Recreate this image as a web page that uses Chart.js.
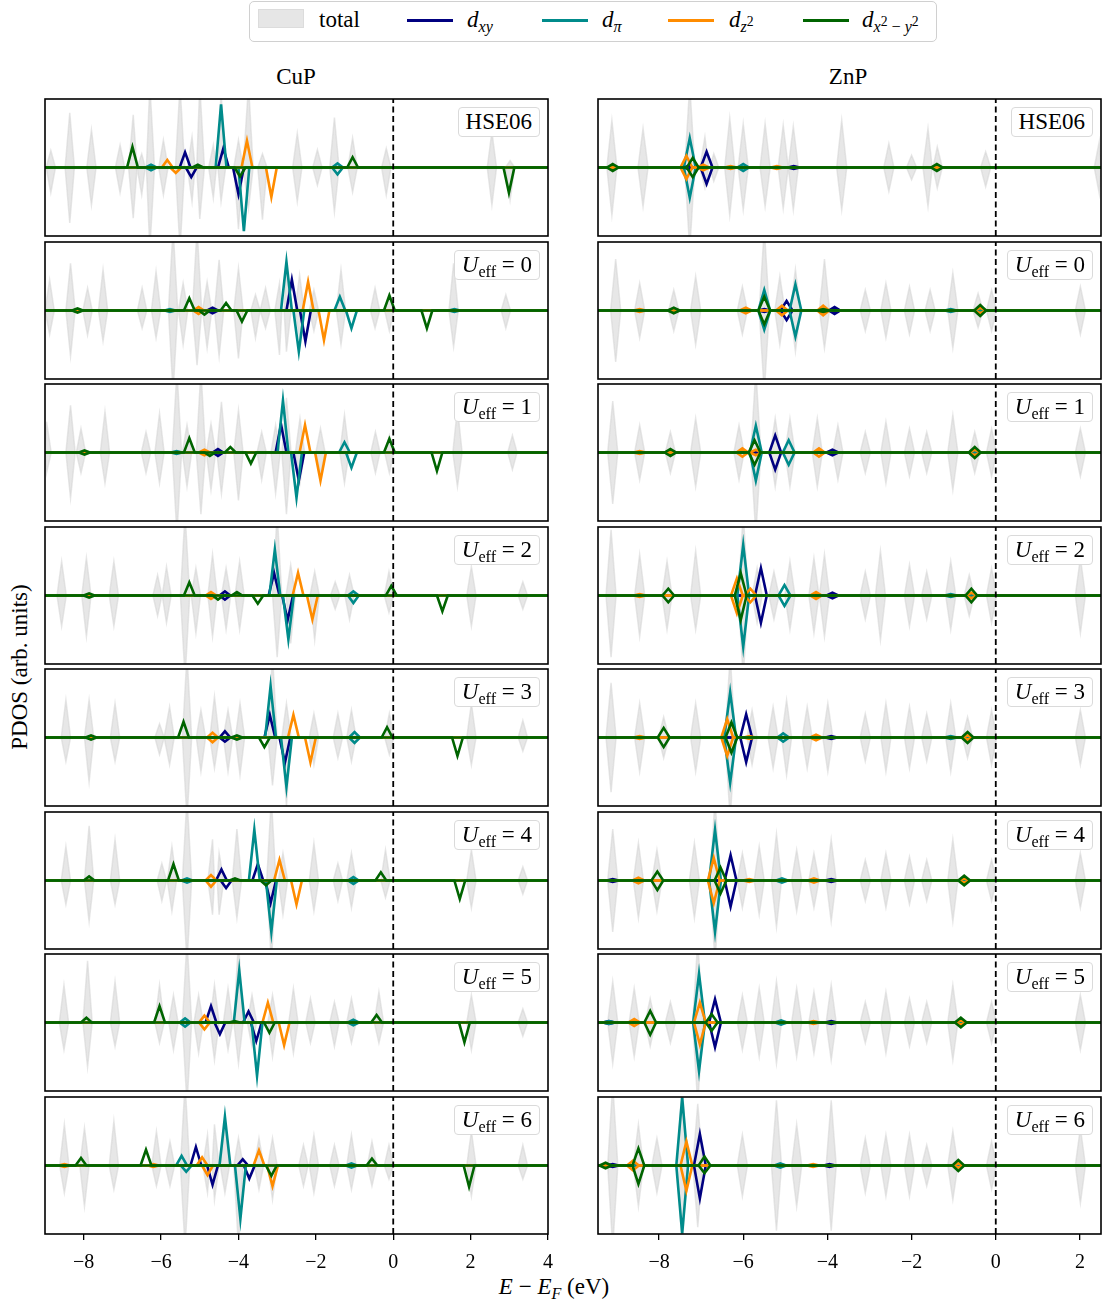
<!DOCTYPE html>
<html>
<head>
<meta charset="utf-8">
<title>PDOS CuP / ZnP</title>
<script src="https://cdn.jsdelivr.net/npm/chart.js@4.4.1/dist/chart.umd.min.js"></script>
<style>
    body {
        margin: 0;
        width: 1108px;
        height: 1306px;
        position: relative;
        overflow: hidden;
        background: #fff;
        color: #000;
        font-family: 'Liberation Serif', 'DejaVu Serif', serif;
    }
    canvas { position: absolute; }
    .txt { position: absolute; font-size: 23px; line-height: 26px; white-space: nowrap; }
    .center { transform: translateX(-50%); }
    sub, sup { font-size: 0.7em; line-height: 0; }
    sub { vertical-align: -0.32em; }
    sup { vertical-align: 0.45em; }
    sub sup { font-size: 0.85em; }
    .tag {
        position: absolute;
        background: #fff;
        border: 1.5px solid #dadada;
        border-radius: 4px;
        font-size: 23px;
        line-height: 28px;
        padding: 0 7px;
        white-space: nowrap;
    }
    #legend {
        position: absolute;
        left: 249px;
        top: 1px;
        width: 686px;
        height: 39px;
        border: 1.5px solid #d0d0d0;
        border-radius: 5px;
        background: #fff;
    }
    .swatch { position: absolute; top: 17px; height: 3px; width: 46px; }
    .patch { position: absolute; left: 8px; top: 7px; width: 44px; height: 17px; background: #e6e6e6; border: 1px solid #dcdcdc; }
    .ltxt { position: absolute; top: 5px; font-size: 23px; line-height: 26px; white-space: nowrap; }
</style>
</head>
<body>
<div id="legend">
    <div class="patch"></div>
    <div class="ltxt" style="left:69px">total</div>
    <div class="swatch" style="left:157px;background:#000080"></div>
    <div class="ltxt" style="left:217px"><i>d</i><sub><i>xy</i></sub></div>
    <div class="swatch" style="left:292px;background:#008b8b"></div>
    <div class="ltxt" style="left:352px"><i>d</i><sub><i>π</i></sub></div>
    <div class="swatch" style="left:418px;background:#ff8c00"></div>
    <div class="ltxt" style="left:479px"><i>d</i><sub><i>z</i><sup>2</sup></sub></div>
    <div class="swatch" style="left:553px;background:#006400"></div>
    <div class="ltxt" style="left:612px"><i>d</i><sub><i>x</i><sup>2</sup> − <i>y</i><sup>2</sup></sub></div>
</div>
<div class="txt center" style="left:296px;top:64px">CuP</div>
<div class="txt center" style="left:848px;top:64px">ZnP</div>
<div class="txt" style="left:20px;top:667px;transform:translate(-50%,-50%) rotate(-90deg)">PDOS (arb. units)</div>
<div class="txt center" style="left:554px;top:1274px"><i>E</i> − <i>E</i><sub><i>F</i></sub> (eV)</div>

<script>
// Peaks are [energy (eV), spin-up height, spin-down height], heights in units of half a panel.
const methods = ['HSE06', 0, 1, 2, 3, 4, 5, 6];
const cupRange = [-9, 4];
const znpRange = [-9.45, 2.5];
const cupTicks = [-8, -6, -4, -2, 0, 2, 4];
const znpTicks = [-8, -6, -4, -2, 0, 2];

const cupTotal = [
    [[-8.85,0.25,0.37],[-8.36,0.8,0.81],[-7.8,0.55,0.55],[-7.06,0.33,0.37],[-6.72,0.77,0.74],[-6.5,0.2,0.4],[-6.29,1.2,1.2],[-5.94,0.4,0.4],[-5.51,1.2,1.2],[-5.2,0.45,0.5],[-5.0,1.2,0.75],[-4.65,0.33,0.45],[-4.45,1.1,0.5],[-4.0,0.4,0.9],[-3.74,1.2,0.6],[-3.38,0.2,0.76],[-2.48,0.5,0.5],[-1.96,0.26,0.26],[-1.52,0.73,0.65],[-1.05,0.43,0.36],[-0.18,0.28,0.4],[2.55,0.52,0.55],[3.02,0.1,0.48]],
    [[-8.88,0.45,0.35],[-8.34,0.69,0.67],[-7.9,0.33,0.36],[-7.5,0.6,0.45],[-6.49,0.33,0.26],[-6.13,0.57,0.4],[-5.69,1.2,1.2],[-5.43,0.4,0.5],[-5.07,1.2,0.8],[-4.81,0.42,0.55],[-4.5,0.74,0.67],[-4.0,0.62,0.7],[-3.56,0.23,0.4],[-3.3,0.33,0.26],[-2.94,0.4,0.65],[-2.76,0.69,0.6],[-2.42,0.52,0.4],[-2.05,0.3,0.3],[-1.35,0.6,0.5],[-0.47,0.33,0.26],[-0.1,0.2,0.3],[1.56,0.69,0.53],[2.91,0.23,0.26]],
    [[-8.96,0.45,0.3],[-8.34,0.69,0.67],[-8.07,0.35,0.3],[-7.45,0.6,0.45],[-6.39,0.3,0.3],[-6.04,0.57,0.45],[-5.59,1.2,1.2],[-5.33,0.4,0.5],[-4.97,1.2,0.9],[-4.71,0.42,0.55],[-4.44,0.74,0.6],[-4.0,0.62,0.7],[-3.4,0.3,0.4],[-3.04,0.4,0.6],[-2.76,0.8,0.9],[-2.41,0.5,0.45],[-1.88,0.35,0.3],[-1.26,0.55,0.45],[-0.46,0.3,0.3],[-0.1,0.25,0.3],[1.66,0.65,0.5],[3.08,0.25,0.25]],
    [[-8.57,0.5,0.45],[-7.93,0.55,0.6],[-7.22,0.5,0.45],[-6.09,0.3,0.3],[-5.86,0.42,0.4],[-5.38,1.2,1.2],[-5.1,0.4,0.55],[-4.67,0.6,0.6],[-4.32,0.4,0.5],[-3.97,0.5,0.5],[-3.0,1.2,0.9],[-2.65,0.45,0.7],[-2.03,0.35,0.65],[-1.5,0.2,0.2],[-1.13,0.3,0.35],[-0.11,0.35,0.25],[2.02,0.42,0.45],[3.35,0.2,0.2]],
    [[-8.46,0.55,0.35],[-7.86,0.55,0.65],[-7.19,0.5,0.35],[-6.04,0.2,0.25],[-5.78,0.45,0.4],[-5.33,1.2,1.2],[-4.97,0.4,0.5],[-4.62,0.6,0.45],[-4.27,0.4,0.5],[-3.96,0.5,0.55],[-3.12,1.2,0.7],[-2.76,0.5,1.0],[-2.05,0.35,0.4],[-1.43,0.35,0.3],[-1.08,0.4,0.35],[-0.1,0.35,0.25],[2.02,0.5,0.4],[3.35,0.25,0.2]],
    [[-8.46,0.5,0.35],[-7.86,0.8,0.6],[-7.19,0.6,0.35],[-5.98,0.25,0.3],[-5.72,0.5,0.45],[-5.33,1.2,1.2],[-4.67,0.6,0.5],[-4.5,0.4,0.5],[-4.04,0.75,0.55],[-3.15,1.2,1.2],[-2.85,0.4,0.5],[-2.05,0.55,0.45],[-1.43,0.25,0.3],[-1.08,0.4,0.4],[-0.2,0.45,0.25],[2.02,0.45,0.4],[3.35,0.2,0.2]],
    [[-8.51,0.55,0.4],[-7.9,0.9,0.65],[-7.19,0.6,0.35],[-6.04,0.55,0.3],[-5.68,0.4,0.4],[-5.33,1.2,1.2],[-5.03,0.4,0.45],[-4.62,0.55,0.55],[-4.27,0.5,0.4],[-4.0,1.2,0.6],[-3.65,0.4,0.35],[-3.12,0.4,0.5],[-2.58,0.5,0.45],[-2.14,0.35,0.3],[-1.52,0.3,0.35],[-1.08,0.35,0.3],[-0.37,0.45,0.3],[2.02,0.4,0.4],[3.35,0.2,0.2]],
    [[-8.5,0.6,0.4],[-7.98,0.55,0.6],[-7.22,0.65,0.35],[-6.12,0.5,0.3],[-5.77,0.35,0.3],[-5.38,1.2,1.2],[-4.8,0.45,0.4],[-4.62,0.6,0.5],[-4.35,0.6,0.4],[-4.0,0.4,1.2],[-3.47,0.4,0.35],[-3.12,0.4,0.5],[-2.32,0.3,0.3],[-2.05,0.45,0.4],[-1.52,0.3,0.3],[-1.08,0.45,0.35],[-0.55,0.35,0.3],[-0.11,0.3,0.2],[2.02,0.5,0.45],[3.35,0.3,0.2]]
];
const cupDxy = [
    [[-5.38,0.22,0],[-5.22,0,0.14],[-4.39,0.28,0],[-4.0,0,0.39]],
    [[-4.67,0.04,0.04],[-2.62,0.45,0],[-2.27,0,0.45]],
    [[-4.53,0.05,0.05],[-2.9,0.41,0],[-2.44,0,0.41]],
    [[-4.35,0.06,0.06],[-3.08,0.33,0],[-2.73,0,0.36]],
    [[-4.35,0.09,0.06],[-3.19,0.33,0],[-2.8,0,0.37]],
    [[-4.44,0.16,0],[-4.32,0,0.11],[-3.5,0.24,0],[-3.17,0,0.33]],
    [[-4.71,0.24,0],[-4.48,0,0.17],[-3.74,0.16,0],[-3.54,0,0.27]],
    [[-5.1,0.27,0],[-4.67,0,0.28],[-3.89,0.09,0],[-3.72,0,0.19]]
];
const cupDpi = [
    [[-6.26,0.04,0.04],[-4.45,0.92,0],[-3.86,0,0.93],[-1.44,0.06,0.1]],
    [[-5.77,0.02,0.02],[-2.76,0.71,0],[-2.44,0,0.6],[-1.38,0.2,0],[-1.08,0,0.26],[1.58,0.02,0.02]],
    [[-5.6,0.02,0.02],[-2.85,0.76,0],[-2.5,0,0.66],[-1.26,0.15,0],[-1.08,0,0.22]],
    [[-3.06,0.67,0],[-2.71,0,0.64],[-1.03,0.06,0.11]],
    [[-3.17,0.75,0],[-2.76,0,0.72],[-1.0,0.08,0.08]],
    [[-5.33,0.03,0.03],[-3.59,0.74,0],[-3.15,0,0.75],[-1.03,0.05,0.05]],
    [[-5.38,0.06,0.06],[-3.98,0.76,0],[-3.52,0,0.78],[-1.03,0.04,0.04]],
    [[-5.47,0.14,0],[-5.35,0,0.09],[-4.35,0.71,0],[-3.95,0,0.78],[-1.08,0.03,0.03]]
];
const cupDz2 = [
    [[-5.84,0.11,0],[-5.62,0,0.08],[-3.78,0.39,0],[-3.15,0,0.43]],
    [[-5.03,0.05,0.05],[-2.2,0.42,0],[-1.79,0,0.43]],
    [[-4.88,0.04,0.04],[-2.28,0.4,0],[-1.88,0,0.41]],
    [[-4.71,0.05,0.05],[-2.46,0.33,0],[-2.09,0,0.35]],
    [[-4.67,0.07,0.07],[-2.58,0.33,0],[-2.14,0,0.36]],
    [[-4.71,0.08,0.09],[-2.94,0.3,0],[-2.5,0,0.35]],
    [[-4.88,0.1,0.1],[-3.24,0.29,0],[-2.82,0,0.33]],
    [[-8.5,0.02,0.02],[-6.2,0.02,0.02],[-4.94,0.12,0],[-4.8,0,0.14],[-3.47,0.22,0],[-3.12,0,0.3]]
];
const cupDx2y2 = [
    [[-6.74,0.3,0],[-5.05,0.04,0],[-3.96,0,0.13],[-1.05,0.15,0],[2.99,0,0.37]],
    [[-8.16,0.03,0.03],[-5.27,0.18,0],[-4.88,0,0.06],[-4.32,0.11,0],[-3.91,0,0.16],[-0.1,0.22,0],[0.87,0,0.26]],
    [[-7.98,0.03,0.03],[-5.27,0.21,0],[-4.74,0,0.05],[-4.21,0.08,0],[-3.68,0,0.16],[-0.1,0.2,0],[1.13,0,0.27]],
    [[-7.86,0.03,0.03],[-5.27,0.19,0],[-4.53,0,0.06],[-4.04,0.05,0],[-3.5,0,0.12],[-0.05,0.14,0],[1.27,0,0.23]],
    [[-7.81,0.03,0.03],[-5.42,0.23,0],[-4.04,0.03,0.03],[-3.33,0,0.14],[-0.16,0.15,0],[1.66,0,0.27]],
    [[-7.86,0.06,0],[-5.68,0.24,0],[-4.09,0.03,0],[-3.29,0,0.07],[-0.32,0.12,0],[1.72,0,0.27]],
    [[-7.93,0.07,0],[-6.04,0.24,0],[-4.1,0.02,0],[-3.2,0,0.15],[-0.43,0.11,0],[1.84,0,0.29]],
    [[-8.07,0.11,0],[-6.39,0.23,0],[-3.15,0,0.15],[-0.55,0.1,0],[1.96,0,0.31]]
];

const znpTotal = [
    [[-9.12,0.69,0.7],[-8.38,0.57,0.57],[-7.27,1.2,1.2],[-6.91,0.45,0.3],[-6.7,0.2,0.2],[-6.32,0.72,0.7],[-6.0,0.64,0.62],[-5.48,0.64,0.57],[-5.05,0.62,0.6],[-4.81,0.6,0.62],[-3.66,0.69,0.62],[-2.54,0.35,0.35],[-2.0,0.18,0.18],[-1.61,0.57,0.57],[-1.39,0.3,0.3],[-0.24,0.23,0.28],[2.46,0.38,0.38]],
    [[-9.03,0.75,0.75],[-8.46,0.4,0.4],[-7.65,0.3,0.3],[-7.13,0.5,0.5],[-6.02,0.35,0.35],[-5.5,1.2,1.2],[-5.13,0.5,0.5],[-4.76,0.6,0.6],[-4.07,0.75,0.55],[-3.1,0.3,0.3],[-2.61,0.4,0.4],[-2.05,0.35,0.35],[-1.56,0.3,0.3],[-1.02,0.55,0.55],[-0.42,0.25,0.25],[-0.1,0.3,0.3],[2.01,0.35,0.35]],
    [[-9.1,0.75,0.75],[-8.46,0.4,0.4],[-7.73,0.3,0.3],[-7.13,0.5,0.5],[-6.1,0.4,0.4],[-5.7,1.2,1.2],[-5.24,0.5,0.5],[-4.89,0.5,0.5],[-4.24,0.5,0.5],[-3.75,0.4,0.4],[-3.1,0.3,0.3],[-2.61,0.45,0.45],[-2.05,0.35,0.35],[-1.64,0.3,0.3],[-1.02,0.55,0.55],[-0.5,0.3,0.3],[-0.1,0.35,0.35],[2.01,0.35,0.35]],
    [[-9.14,0.96,0.9],[-8.46,0.6,0.6],[-7.81,0.5,0.5],[-7.13,0.65,0.5],[-6.0,1.2,1.2],[-5.67,0.4,0.4],[-5.27,0.35,0.35],[-4.89,0.5,0.5],[-4.32,0.55,0.55],[-4.07,0.6,0.6],[-3.1,0.35,0.35],[-2.74,0.65,0.65],[-2.05,0.45,0.45],[-1.64,0.35,0.35],[-1.07,0.5,0.5],[-0.63,0.3,0.3],[-0.1,0.4,0.4],[2.01,0.55,0.55]],
    [[-9.14,0.8,0.8],[-8.46,0.5,0.5],[-7.89,0.3,0.3],[-7.13,0.5,0.5],[-6.31,1.2,1.2],[-5.79,0.4,0.4],[-5.29,0.45,0.45],[-4.97,0.55,0.55],[-4.48,0.45,0.45],[-3.99,0.5,0.5],[-3.1,0.35,0.35],[-2.61,0.5,0.5],[-2.05,0.45,0.45],[-1.64,0.35,0.35],[-1.07,0.5,0.5],[-0.67,0.3,0.3],[-0.1,0.4,0.4],[2.01,0.4,0.4]],
    [[-9.1,0.75,0.75],[-8.49,0.55,0.55],[-8.05,0.45,0.45],[-7.16,0.55,0.55],[-6.67,1.2,1.2],[-6.02,0.4,0.4],[-5.62,0.5,0.5],[-5.21,0.68,0.68],[-4.73,0.45,0.45],[-4.32,0.4,0.4],[-3.91,0.6,0.6],[-3.1,0.3,0.3],[-2.61,0.4,0.4],[-2.05,0.35,0.35],[-1.64,0.3,0.3],[-1.02,0.6,0.6],[-0.1,0.3,0.3],[2.01,0.4,0.4]],
    [[-9.1,0.6,0.6],[-8.59,0.5,0.5],[-8.21,0.35,0.35],[-7.73,0.3,0.3],[-7.08,1.2,1.2],[-6.02,0.4,0.4],[-5.62,0.5,0.5],[-5.21,0.6,0.6],[-4.73,0.5,0.5],[-4.32,0.45,0.45],[-3.91,0.55,0.55],[-3.1,0.3,0.3],[-2.61,0.45,0.45],[-2.05,0.35,0.35],[-1.64,0.3,0.3],[-1.02,0.55,0.55],[-0.1,0.3,0.3],[2.01,0.4,0.4]],
    [[-9.1,1.2,1.2],[-8.49,0.6,0.6],[-8.05,0.4,0.4],[-7.45,1.2,1.2],[-7.08,0.9,0.9],[-6.02,0.45,0.45],[-5.21,0.95,0.95],[-4.73,0.6,0.6],[-3.91,0.95,0.95],[-3.1,0.4,0.4],[-2.61,0.45,0.45],[-2.05,0.45,0.45],[-1.64,0.3,0.3],[-1.02,0.5,0.5],[-0.1,0.35,0.35],[2.01,0.55,0.55]]
];
const znpDxy = [
    [[-7.3,0.02,0.02],[-6.87,0.23,0.24],[-4.8,0.02,0.02]],
    [[-5.5,0.02,0.02],[-4.97,0.14,0.14],[-3.83,0.05,0.05]],
    [[-5.24,0.25,0.25],[-3.88,0.04,0.04]],
    [[-5.58,0.4,0.4],[-3.88,0.04,0.04]],
    [[-5.93,0.34,0.36],[-3.91,0.02,0.02]],
    [[-9.1,0.02,0.02],[-6.3,0.37,0.38],[-3.91,0.02,0.02]],
    [[-9.19,0.02,0.02],[-6.67,0.34,0.36],[-3.91,0.02,0.02]],
    [[-9.1,0.02,0.02],[-7.03,0.46,0.48],[-3.95,0.02,0.02]]
];
const znpDpi = [
    [[-7.27,0.43,0.44],[-6.0,0.05,0.05]],
    [[-5.5,0.3,0.28],[-4.76,0.38,0.38],[-1.07,0.02,0.02]],
    [[-5.7,0.39,0.41],[-4.92,0.18,0.18]],
    [[-6.0,0.74,0.75],[-5.02,0.15,0.15],[-1.07,0.02,0.02]],
    [[-6.31,0.66,0.66],[-5.05,0.06,0.06],[-1.07,0.02,0.02]],
    [[-6.67,0.74,0.75],[-5.08,0.03,0.03]],
    [[-9.19,0.02,0.02],[-7.05,0.71,0.71],[-5.1,0.03,0.03]],
    [[-7.45,0.99,0.99],[-5.12,0.03,0.03]]
];
const znpDz2 = [
    [[-7.35,0.17,0.17],[-6.95,0.04,0.04],[-6.3,0.02,0.02],[-5.2,0.02,0.02],[-1.4,0.02,0.02]],
    [[-8.46,0.02,0.02],[-7.65,0.02,0.02],[-5.94,0.04,0.04],[-5.08,0.07,0.07],[-4.1,0.07,0.07],[-0.37,0.04,0.04]],
    [[-8.46,0.02,0.02],[-7.73,0.02,0.02],[-6.02,0.06,0.06],[-5.7,0.04,0.04],[-4.2,0.06,0.06],[-0.5,0.04,0.04]],
    [[-8.46,0.02,0.02],[-6.15,0.25,0.26],[-5.83,0.1,0.1],[-4.27,0.05,0.05],[-0.58,0.04,0.04]],
    [[-8.46,0.02,0.02],[-6.38,0.27,0.27],[-5.85,0.02,0.02],[-4.27,0.04,0.04],[-0.67,0.03,0.03]],
    [[-8.49,0.04,0.04],[-6.7,0.33,0.33],[-5.86,0.02,0.02],[-4.32,0.03,0.03],[-0.75,0.03,0.03]],
    [[-8.59,0.05,0.05],[-7.03,0.29,0.32],[-4.33,0.02,0.02],[-0.83,0.03,0.03]],
    [[-8.62,0.07,0.07],[-7.35,0.35,0.37],[-4.34,0.02,0.02],[-0.89,0.03,0.03]]
];
const znpDx2y2 = [
    [[-9.1,0.05,0.05],[-7.2,0.14,0.14],[-1.4,0.05,0.05]],
    [[-7.65,0.04,0.04],[-5.5,0.2,0.2],[-4.1,0.02,0.02],[-0.37,0.08,0.08]],
    [[-7.73,0.05,0.05],[-5.73,0.18,0.18],[-0.5,0.08,0.08]],
    [[-7.78,0.1,0.1],[-6.06,0.33,0.36],[-0.58,0.1,0.1]],
    [[-7.89,0.14,0.14],[-6.28,0.22,0.22],[-0.67,0.08,0.08]],
    [[-8.04,0.13,0.14],[-6.54,0.19,0.19],[-0.75,0.07,0.07]],
    [[-8.21,0.17,0.18],[-6.75,0.12,0.12],[-0.83,0.07,0.07]],
    [[-9.27,0.04,0.04],[-8.49,0.25,0.27],[-6.92,0.13,0.11],[-0.89,0.08,0.08]]
];

const greyFill = 'rgba(211, 211, 211, 0.55)';
const orbitalColors = ['#000080', '#008b8b', '#ff8c00', '#006400'];
const totalHalfWidth = 0.12;
const orbitalHalfWidth = 0.14;

Chart.defaults.font.family = "'Liberation Serif', 'DejaVu Serif', serif";
Chart.defaults.color = '#000';

// turn a peak list into a polyline along one spin channel
function spikeLine(peaks, spin, half, range) {
    const pts = [{ x: range[0], y: 0 }, { x: range[1], y: 0 }];
    peaks.forEach(function (p) {
        const h = spin > 0 ? p[1] : -p[2];
        if (h === 0) return;
        pts.push({ x: p[0] - half, y: 0 }, { x: p[0], y: h }, { x: p[0] + half, y: 0 });
    });
    return pts.sort(function (a, b) { return a.x - b.x; });
}

const framePlugin = {
    id: 'frame',
    afterDatasetsDraw: function (chart) {
        const a = chart.chartArea;
        const ctx = chart.ctx;
        ctx.save();
        ctx.strokeStyle = '#000';
        ctx.lineWidth = 1.6;
        ctx.strokeRect(a.left, a.top, a.right - a.left, a.bottom - a.top);
        ctx.restore();
    }
};

const columns = [
    { left: 45, range: cupRange, ticks: cupTicks, sets: [cupTotal, cupDxy, cupDpi, cupDz2, cupDx2y2] },
    { left: 598, range: znpRange, ticks: znpTicks, sets: [znpTotal, znpDxy, znpDpi, znpDz2, znpDx2y2] }
];
const panelWidth = 503;
const panelHeight = 137;
const rowStep = 142.5;
const axisHeight = 42;

columns.forEach(function (col) {
    methods.forEach(function (method, row) {
        const top = Math.round(99 + row * rowStep);
        const isBottom = row === methods.length - 1;
        // bottom row gets side room so edge tick labels are not cut
        const side = isBottom ? 14 : 2;
        const canvas = document.createElement('canvas');
        const cw = panelWidth + 2 * side;
        const ch = panelHeight + 2 + (isBottom ? axisHeight : 2);
        canvas.width = cw;
        canvas.height = ch;
        canvas.style.left = (col.left - side) + 'px';
        canvas.style.top = (top - 2) + 'px';
        canvas.style.width = cw + 'px';
        canvas.style.height = ch + 'px';
        document.body.appendChild(canvas);

        const datasets = [];
        [1, -1].forEach(function (spin) {
            datasets.push({
                data: spikeLine(col.sets[0][row], spin, totalHalfWidth, col.range),
                borderColor: greyFill,
                backgroundColor: greyFill,
                borderWidth: 1.5,
                fill: 'origin',
                order: 10
            });
        });
        for (let k = 1; k < 5; k++) {
            [1, -1].forEach(function (spin) {
                datasets.push({
                    data: spikeLine(col.sets[k][row], spin, orbitalHalfWidth, col.range),
                    borderColor: orbitalColors[k - 1],
                    borderWidth: 2.6,
                    fill: false,
                    order: 6 - k
                });
            });
        }
        // Fermi level
        datasets.push({
            data: [{ x: 0, y: -1 }, { x: 0, y: 1 }],
            borderColor: '#000',
            borderWidth: 1.8,
            borderDash: [6, 3.5],
            fill: false,
            order: 0
        });
        datasets.forEach(function (d) { d.clip = 0; d.pointRadius = 0; });

        new Chart(canvas, {
            type: 'line',
            data: { datasets: datasets },
            options: {
                responsive: false,
                animation: false,
                devicePixelRatio: 1,
                layout: { padding: { left: side, right: side, top: 2, bottom: isBottom ? 0 : 2 } },
                elements: { line: { tension: 0 }, point: { radius: 0 } },
                plugins: { legend: { display: false }, tooltip: { enabled: false } },
                scales: {
                    x: {
                        type: 'linear',
                        min: col.range[0],
                        max: col.range[1],
                        display: isBottom,
                        afterBuildTicks: function (axis) {
                            axis.ticks = col.ticks.map(function (v) { return { value: v }; });
                        },
                        afterFit: function (axis) {
                            if (isBottom) axis.height = axisHeight;
                            axis.paddingLeft = 0;
                            axis.paddingRight = 0;
                        },
                        border: { display: false },
                        grid: {
                            display: true,
                            drawOnChartArea: false,
                            drawTicks: true,
                            tickLength: 6,
                            color: '#000',
                            lineWidth: 1.3
                        },
                        ticks: {
                            padding: 11,
                            maxRotation: 0,
                            font: { size: 20 },
                            callback: function (v) { return String(v).replace('-', '\u2212'); }
                        }
                    },
                    y: { display: false, min: -1, max: 1 }
                }
            },
            plugins: [framePlugin]
        });

        const tag = document.createElement('div');
        tag.className = 'tag';
        tag.innerHTML = method === 'HSE06' ? 'HSE06' : '<i>U</i><sub>eff</sub> = ' + method;
        tag.style.right = (1108 - (col.left + panelWidth - 8)) + 'px';
        tag.style.top = (top + 8) + 'px';
        document.body.appendChild(tag);
    });
});
</script>
</body>
</html>
